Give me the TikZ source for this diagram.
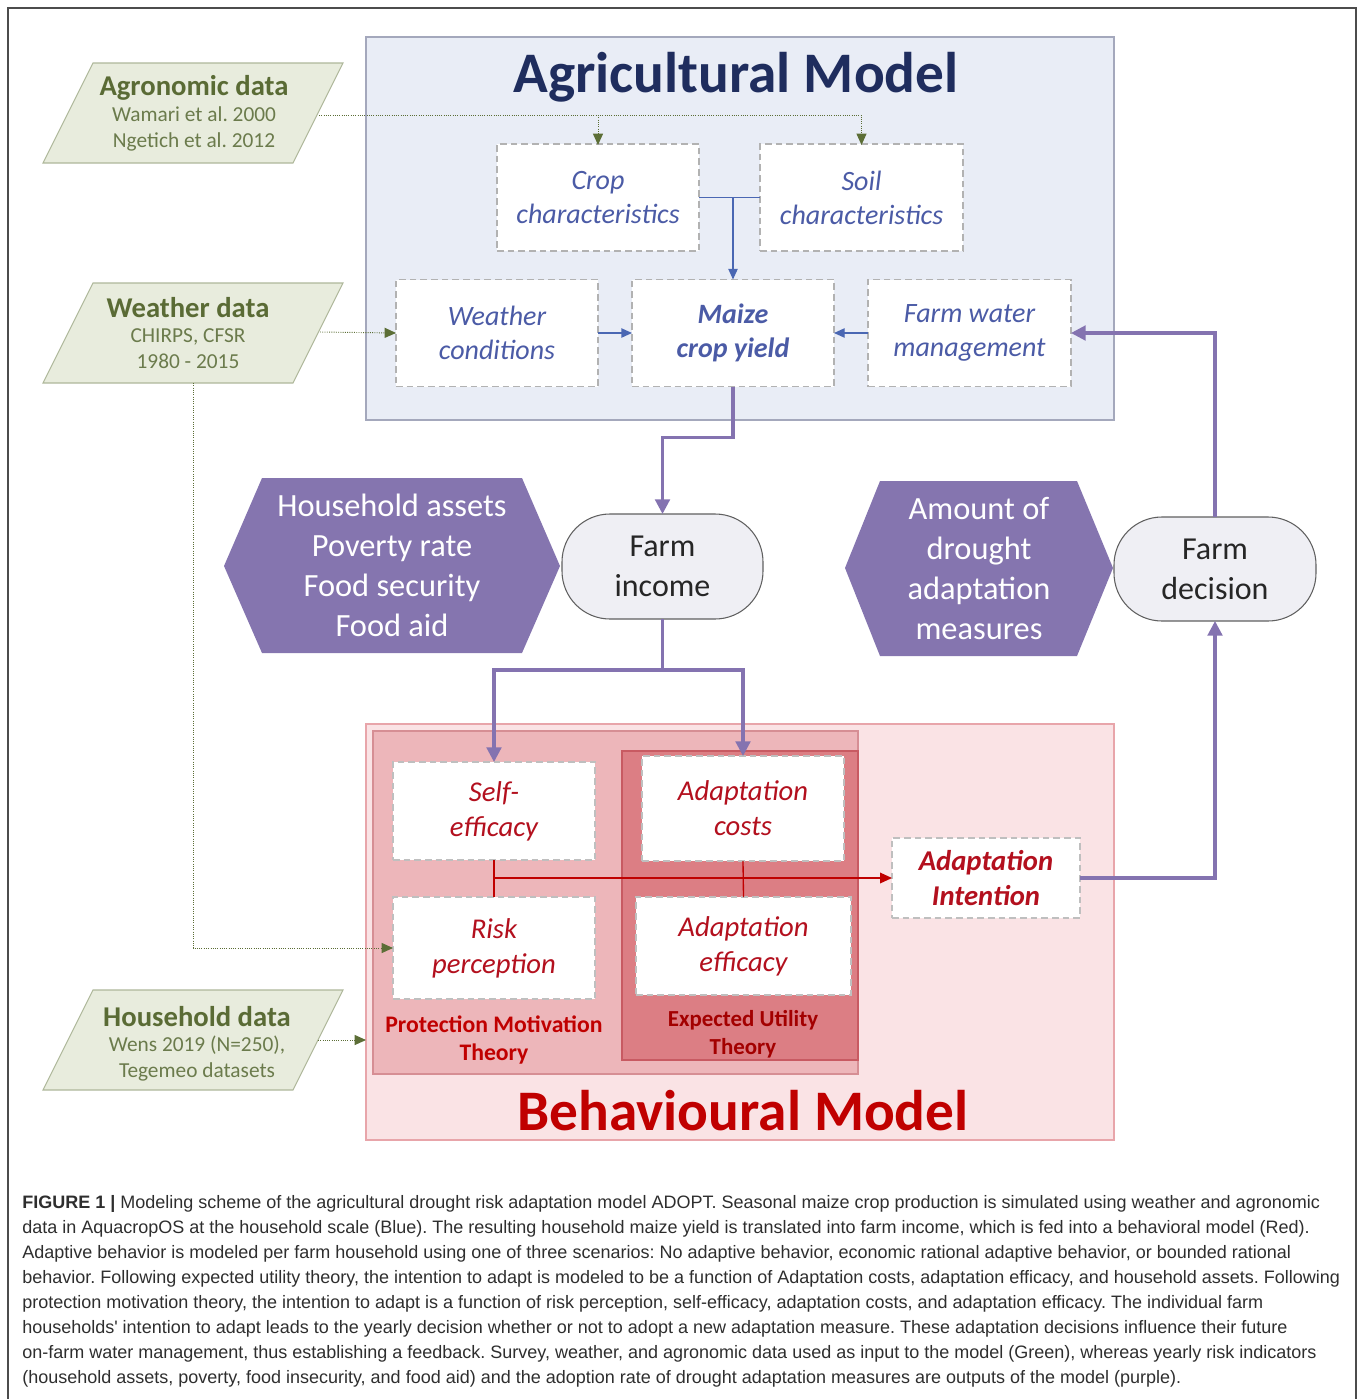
\documentclass[tikz,border=0pt]{standalone}
\usepackage{fontspec}
\setmainfont{Carlito}
\newfontfamily\capfont{Liberation Sans}
\usetikzlibrary{arrows.meta}
\definecolor{agrifill}{HTML}{E9EDF6}
\definecolor{agriline}{HTML}{A4A8BC}
\definecolor{navy}{HTML}{1F2D5E}
\definecolor{boxblue}{HTML}{4B5BA6}
\definecolor{conblue}{HTML}{4A67B3}
\definecolor{purp}{HTML}{8473B0}
\definecolor{hexfill}{HTML}{8575AF}
\definecolor{ovalfill}{HTML}{EFEFF4}
\definecolor{ovalline}{HTML}{606060}
\definecolor{grnfill}{HTML}{E8ECDD}
\definecolor{grnline}{HTML}{AEB79A}
\definecolor{grntitle}{HTML}{5A6B35}
\definecolor{grntext}{HTML}{6B7B4C}
\definecolor{grnarrow}{HTML}{5C6E36}
\definecolor{pinkfill}{HTML}{FAE3E5}
\definecolor{pinkline}{HTML}{E8A5AA}
\definecolor{pmtfill}{HTML}{EDB6BA}
\definecolor{pmtline}{HTML}{D68E94}
\definecolor{eutfill}{HTML}{DC7E84}
\definecolor{eutline}{HTML}{C85A62}
\definecolor{redtxt}{HTML}{B3101E}
\definecolor{darkred}{HTML}{C00000}
\definecolor{captxt}{HTML}{2E2E2E}
\tikzset{
  dbox/.style={draw=#1, dash pattern=on 5pt off 3pt, line width=0.8pt, fill=white,
    inner sep=0pt, outer sep=0pt, align=center},
  bluetext/.style={text=boxblue, font=\fontsize{21}{25.5}\selectfont\itshape},
  redtext/.style={text=redtxt, font=\fontsize{21.5}{26.25}\selectfont\itshape},
  container/.style={inner sep=0pt, outer sep=0pt, line width=0.8pt},
  oval/.style={draw=ovalline, fill=ovalfill, line width=0.8pt, rounded corners=36pt,
    inner sep=0pt, outer sep=0pt, align=center, text=black!85,
    font=\fontsize{24}{30}\selectfont},
  hextext/.style={text=white, align=center, font=\fontsize{24.3}{30}\selectfont},
  gtitle/.style={text=grntitle, font=\fontsize{21.5}{22}\selectfont\bfseries},
  gbody/.style={text=grntext, align=center, font=\fontsize{16}{19.5}\selectfont},
  garrow/.style={draw=grnarrow, densely dotted, line width=0.7pt,
    -{Triangle[length=8.5pt,width=7.5pt,fill=grnarrow]}},
  barrow/.style={draw=conblue, line width=1pt, -{Triangle[length=8pt,width=7pt]}},
  parrow/.style={draw=purp, line width=2.3pt, -{Triangle[length=11pt,width=11pt]}},
  rarrow/.style={draw=darkred, line width=1pt, -{Triangle[length=9pt,width=8pt]}},
  capline/.style={anchor=west, inner sep=0pt, text=captxt, font=\capfont\fontsize{13.5}{16}\selectfont}
}
\begin{document}
\frenchspacing
\begin{tikzpicture}[x=0.75pt,y=-0.75pt]
\useasboundingbox (0,0) rectangle (1360,1399);
% outer frame
\draw[black!70, line width=0.8pt] (8,1402) -- (8,8) -- (1356,8) -- (1356,1402);

% ---------- Agricultural model container ----------
\node[container, draw=agriline, fill=agrifill, minimum width=561pt, minimum height=287.25pt] (agri) at (740,228.5) {};
\node[text=navy, font=\fontsize{43}{48}\selectfont\bfseries] (agrititle) at (736,77) {Agricultural Model};

\node[dbox=black!30, bluetext, minimum width=151.5pt, minimum height=80.25pt] (crop) at (598,197.5) {Crop\\characteristics};
\node[dbox=black!30, bluetext, minimum width=152.25pt, minimum height=80.25pt] (soil) at (861.5,197.5) {Soil\\characteristics};
\node[dbox=black!30, bluetext, minimum width=151.5pt, minimum height=80.25pt] (weather) at (497,333) {Weather\\conditions};
\node[dbox=black!30, bluetext, font=\fontsize{21}{25.5}\selectfont\bfseries\itshape, minimum width=151.5pt, minimum height=80.25pt] (maize) at (733,333) {Maize\\crop yield};
\node[dbox=black!30, bluetext, minimum width=152.25pt, minimum height=80.25pt] (water) at (969.5,333) {Farm water\\management};

% ---------- Behavioural model containers ----------
\node[container, draw=pinkline, fill=pinkfill, minimum width=561pt, minimum height=312pt] (beh) at (740,932) {};
\node[container, draw=pmtline, fill=pmtfill, minimum width=363.75pt, minimum height=257.25pt] (pmt) at (615.5,902.5) {};
\node[container, draw=eutline, fill=eutfill, minimum width=177pt, minimum height=231.75pt] (eut) at (740,905.5) {};

\node[dbox=black!25, redtext, minimum width=151.5pt, minimum height=73.5pt] (self) at (494,811) {Self-\\efficacy};
\node[dbox=black!25, redtext, minimum width=151.5pt, minimum height=78.75pt] (cost) at (743,808.5) {Adaptation\\costs};
\node[dbox=black!25, redtext, minimum width=151.5pt, minimum height=76.5pt] (risk) at (494,948) {Risk\\perception};
\node[dbox=black!25, redtext, minimum width=161.25pt, minimum height=73.5pt] (eff) at (743.5,946) {Adaptation\\efficacy};
\node[dbox=black!25, redtext, font=\fontsize{21.5}{26.25}\selectfont\bfseries\itshape, minimum width=141pt, minimum height=60pt] (intent) at (986,878) {Adaptation\\Intention};

\node[text=darkred, align=center, font=\fontsize{17.8}{21.5}\selectfont\bfseries] (pmtlabel) at (494,1040) {Protection Motivation\\Theory};
\node[text=darkred!85!black, align=center, font=\fontsize{17.2}{21}\selectfont\bfseries] (eutlabel) at (743,1034) {Expected Utility\\Theory};
\node[text=darkred, font=\fontsize{43}{48}\selectfont\bfseries] (behtitle) at (743,1111) {Behavioural Model};

% ---------- ovals ----------
\node[oval, minimum width=150.75pt, minimum height=78.75pt] (income) at (662.5,566.5) {Farm\\income};
\node[oval, minimum width=151.5pt, minimum height=78pt] (decision) at (1215,569) {Farm\\decision};

% ---------- hexagons ----------
\fill[hexfill] (224,566) -- (262,478) -- (522,478) -- (560,566) -- (522,653) -- (262,653) -- cycle;
\node[hextext] (hhout) at (392,565) {Household assets\\Poverty rate\\Food security\\Food aid};
\fill[hexfill] (845,568) -- (880,481) -- (1077,481) -- (1113,568) -- (1077,656) -- (880,656) -- cycle;
\node[hextext] (adout) at (979,569) {Amount of\\drought\\adaptation\\measures};

% ---------- data parallelograms ----------
\filldraw[fill=grnfill, draw=grnline, line width=0.8pt] (93,63) -- (343,63) -- (293,163) -- (43,163) -- cycle;
\node[gtitle] (agroT) at (194,88) {Agronomic data};
\node[gbody] (agroB) at (194,129) {Wamari et al. 2000\\Ngetich et al. 2012};
\coordinate (agroR) at (319,115);

\filldraw[fill=grnfill, draw=grnline, line width=0.8pt] (93,283) -- (343,283) -- (293,383) -- (43,383) -- cycle;
\node[gtitle] (wdT) at (188,308) {Weather data};
\node[gbody] (wdB) at (188,349) {CHIRPS, CFSR\\1980 - 2015};
\coordinate (wdR) at (320,332);
\coordinate (wdBot) at (193,383);

\filldraw[fill=grnfill, draw=grnline, line width=0.8pt] (93,990) -- (343,990) -- (293,1090) -- (43,1090) -- cycle;
\node[gtitle] (hdT) at (197,1017) {Household data};
\node[gbody] (hdB) at (197,1059) {Wens 2019 (N=250),\\Tegemeo datasets};
\coordinate (hdR) at (318,1040);

% ---------- green dotted inputs ----------
\draw[garrow] (agroR) -| ([yshift=-0.75pt]soil.north);
\draw[garrow] (crop.north |- agroR) -- ([yshift=-0.75pt]crop.north);
\draw[garrow] (wdR) -- (weather.west);
\draw[garrow] (wdBot) |- (risk.west);
\draw[garrow] (hdR) -- (beh.west |- hdR);

% ---------- blue connectors ----------
\draw[draw=conblue, line width=1pt] (crop.east) -- (soil.west);
\draw[barrow] (maize.north |- crop.east) -- (maize.north);
\draw[barrow] (weather.east) -- (maize.west);
\draw[barrow] (water.west) -- (maize.east);

% ---------- purple connectors ----------
\draw[parrow] (maize.south) -- ++(0,51) -| (income.north);
\draw[draw=purp, line width=2.3pt] (income.south) -- ++(0,51) coordinate (split);
\draw[parrow] (split) -| (self.north);
\draw[parrow] (split) -| (cost.north);
\draw[parrow] (decision.north) |- (water.east);
\draw[parrow] (intent.east) -| (decision.south);

% ---------- red connectors ----------
\draw[draw=darkred, line width=1pt] (self.south) -- (risk.north);
\draw[draw=darkred, line width=1pt] (cost.south) -- (eff.north);
\draw[rarrow] (self.south |- intent.west) -- (intent.west);

% ---------- caption ----------
\node[capline] (c1) at (22,1204) {\textbf{FIGURE 1 |} Modeling scheme of the agricultural drought risk adaptation model ADOPT. Seasonal maize crop production is simulated using weather and agronomic};
\node[capline] (c2) at (22,1229) {data in AquacropOS at the household scale (Blue). The resulting household maize yield is translated into farm income, which is fed into a behavioral model (Red).};
\node[capline] (c3) at (22,1254) {Adaptive behavior is modeled per farm household using one of three scenarios: No adaptive behavior, economic rational adaptive behavior, or bounded rational};
\node[capline] (c4) at (22,1279) {behavior. Following expected utility theory, the intention to adapt is modeled to be a function of Adaptation costs, adaptation efficacy, and household assets. Following};
\node[capline] (c5) at (22,1304) {protection motivation theory, the intention to adapt is a function of risk perception, self-efficacy, adaptation costs, and adaptation efficacy. The individual farm};
\node[capline] (c6) at (22,1329) {households' intention to adapt leads to the yearly decision whether or not to adopt a new adaptation measure. These adaptation decisions influence their future};
\node[capline] (c7) at (22,1354) {on-farm water management, thus establishing a feedback. Survey, weather, and agronomic data used as input to the model (Green), whereas yearly risk indicators};
\node[capline] (c8) at (22,1379) {(household assets, poverty, food insecurity, and food aid) and the adoption rate of drought adaptation measures are outputs of the model (purple).};
\end{tikzpicture}
\end{document}
